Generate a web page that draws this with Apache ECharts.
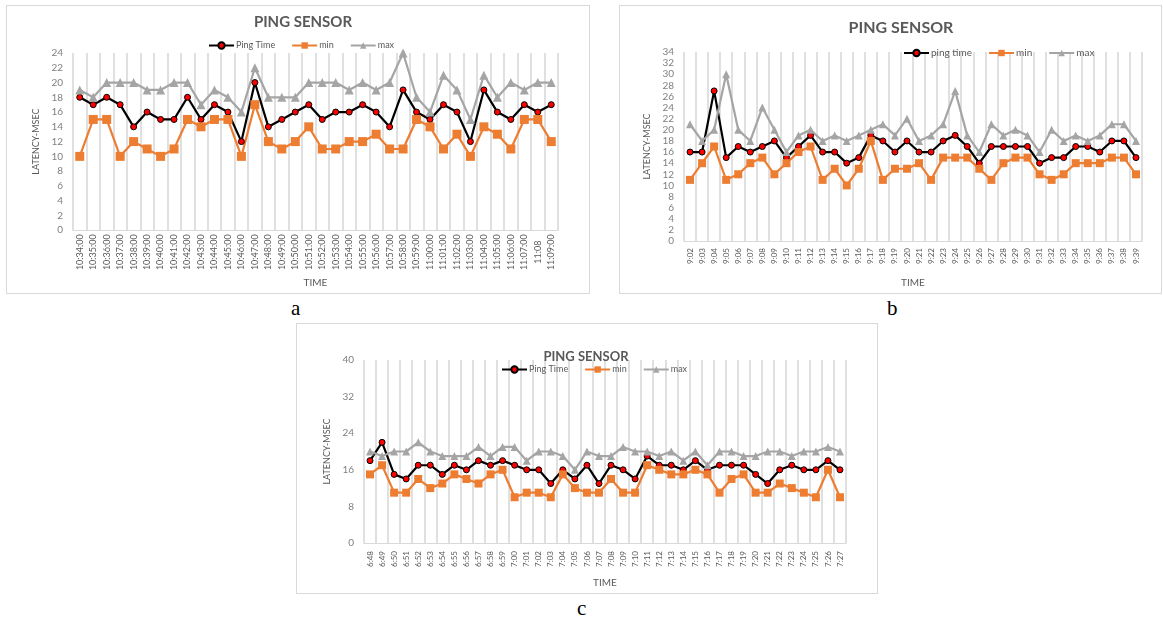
<!DOCTYPE html>
<html>
<head>
<meta charset="utf-8">
<script src="https://cdn.jsdelivr.net/npm/echarts@6/dist/echarts.min.js"></script>
<style>
  html, body { margin: 0; padding: 0; background: #fff; }
  body { width: 1163px; height: 622px; position: relative; overflow: hidden; }
  .box { position: absolute; border: 1px solid #d9d9d9; box-sizing: border-box; }
  .tag { position: absolute; font-family: "Liberation Serif", serif; font-size: 21px; color: #000; }
</style>
</head>
<body>
<div id="chartA" class="box" style="left:6px;top:5px;width:584px;height:289px;"></div>
<div id="chartB" class="box" style="left:619px;top:5px;width:543px;height:289px;"></div>
<div id="chartC" class="box" style="left:296px;top:323px;width:582px;height:271px;"></div>
<div class="tag" style="left:291px;top:296px;">a</div>
<div class="tag" style="left:887px;top:296px;">b</div>
<div class="tag" style="left:577px;top:596px;">c</div>
<script>
// chart a
const timesA = ['10:34:00', '10:35:00', '10:36:00', '10:37:00', '10:38:00', '10:39:00', '10:40:00', '10:41:00', '10:42:00',
  '10:43:00', '10:44:00', '10:45:00', '10:46:00', '10:47:00', '10:48:00', '10:49:00', '10:50:00', '10:51:00',
  '10:52:00', '10:53:00', '10:54:00', '10:55:00', '10:56:00', '10:57:00', '10:58:00', '10:59:00', '11:00:00',
  '11:01:00', '11:02:00', '11:03:00', '11:04:00', '11:05:00', '11:06:00', '11:07:00', '11:08', '11:09:00'];
const pingA = [18, 17, 18, 17, 14, 16, 15, 15, 18, 15, 17, 16, 12, 20, 14, 15, 16, 17, 15, 16, 16, 17, 16, 14, 19, 16, 15, 17, 16, 12, 19, 16, 15, 17, 16, 17];
const minA = [10, 15, 15, 10, 12, 11, 10, 11, 15, 14, 15, 15, 10, 17, 12, 11, 12, 14, 11, 11, 12, 12, 13, 11, 11, 15, 14, 11, 13, 10, 14, 13, 11, 15, 15, 12];
const maxA = [19, 18, 20, 20, 20, 19, 19, 20, 20, 17, 19, 18, 16, 22, 18, 18, 18, 20, 20, 20, 19, 20, 19, 20, 24, 18, 16, 21, 19, 15, 21, 18, 20, 19, 20, 20];

// chart b
const timesB = ['9:02', '9:03', '9:04', '9:05', '9:06', '9:07', '9:08', '9:09', '9:10', '9:11', '9:12', '9:13', '9:14',
  '9:15', '9:16', '9:17', '9:18', '9:19', '9:20', '9:21', '9:22', '9:23', '9:24', '9:25', '9:26', '9:27', '9:28',
  '9:29', '9:30', '9:31', '9:32', '9:33', '9:34', '9:35', '9:36', '9:37', '9:38', '9:39'];
const pingB = [16, 16, 27, 15, 17, 16, 17, 18, 15, 17, 19, 16, 16, 14, 15, 19, 18, 16, 18, 16, 16, 18, 19, 17, 14, 17, 17, 17, 17, 14, 15, 15, 17, 17, 16, 18, 18, 15];
const minB = [11, 14, 17, 11, 12, 14, 15, 12, 14, 16, 17, 11, 13, 10, 13, 18, 11, 13, 13, 14, 11, 15, 15, 15, 13, 11, 14, 15, 15, 12, 11, 12, 14, 14, 14, 15, 15, 12];
const maxB = [21, 18, 20, 30, 20, 18, 24, 20, 16, 19, 20, 18, 19, 18, 19, 20, 21, 19, 22, 18, 19, 21, 27, 19, 16, 21, 19, 20, 19, 16, 20, 18, 19, 18, 19, 21, 21, 18];

// chart c
const timesC = ['6:48', '6:49', '6:50', '6:51', '6:52', '6:53', '6:54', '6:55', '6:56', '6:57', '6:58', '6:59', '7:00',
  '7:01', '7:02', '7:03', '7:04', '7:05', '7:06', '7:07', '7:08', '7:09', '7:10', '7:11', '7:12', '7:13', '7:14',
  '7:15', '7:16', '7:17', '7:18', '7:19', '7:20', '7:21', '7:22', '7:23', '7:24', '7:25', '7:26', '7:27'];
const pingC = [18, 22, 15, 14, 17, 17, 15, 17, 16, 18, 17, 18, 17, 16, 16, 13, 16, 14, 17, 13, 17, 16, 14, 19, 17, 17, 16, 18, 16, 17, 17, 17, 15, 13, 16, 17, 16, 16, 18, 16];
const minC = [15, 17, 11, 11, 14, 12, 13, 15, 14, 13, 15, 16, 10, 11, 11, 10, 15, 12, 11, 11, 14, 11, 11, 17, 16, 15, 15, 16, 15, 11, 14, 15, 11, 11, 13, 12, 11, 10, 16, 10];
const maxC = [20, 19, 20, 20, 22, 20, 19, 19, 19, 21, 19, 21, 21, 18, 20, 20, 19, 16, 20, 19, 19, 21, 20, 20, 19, 20, 18, 20, 17, 20, 20, 19, 19, 20, 20, 19, 20, 20, 21, 20];

const FONT = 'Lato, "Open Sans", sans-serif';
const TXT = '#595959';

// Build one ping sensor panel
function buildChart(domId, cfg) {
    const chart = echarts.init(document.getElementById(domId), null, { renderer: 'canvas' });
    const option = {
        animation: false,
        textStyle: { fontFamily: FONT },
        title: {
            text: 'PING SENSOR',
            left: cfg.titleX,
            top: cfg.titleY,
            textAlign: 'center',
            textStyle: { fontSize: cfg.titleSize, fontWeight: 'bold', color: TXT, fontFamily: FONT }
        },
        legend: {
            data: cfg.names,
            left: cfg.legendX,
            top: cfg.legendY,
            itemWidth: 25,
            itemHeight: 8,
            itemGap: 16,
            textStyle: { fontSize: cfg.legendSize, color: TXT, padding: [0, 0, 0, -3] }
        },
        grid: cfg.grid,
        xAxis: {
            type: 'category',
            data: cfg.times,
            boundaryGap: true,
            name: 'TIME',
            nameLocation: 'middle',
            nameGap: cfg.timeGap,
            nameTextStyle: { fontSize: 10, color: TXT },
            axisLine: { lineStyle: { color: '#d9d9d9', width: 1 } },
            axisTick: { show: false },
            splitLine: { show: true, interval: 0, lineStyle: { color: '#d9d9d9', width: 1.6 } },
            axisLabel: {
                rotate: 90,
                interval: 0,
                align: 'center',
                verticalAlign: 'middle',
                margin: cfg.labelMargin,
                fontSize: cfg.labelSize,
                color: TXT
            }
        },
        yAxis: {
            type: 'value',
            min: 0,
            max: cfg.yMax,
            interval: cfg.yStep,
            name: 'LATENCY-MSEC',
            nameLocation: 'middle',
            nameRotate: 90,
            nameGap: cfg.latGap,
            nameTextStyle: { fontSize: 9, color: TXT },
            axisLine: { show: false },
            axisTick: { show: false },
            splitLine: { show: false },
            axisLabel: { fontSize: cfg.ySize, color: '#7f7f7f', margin: 10 }
        },
        series: [
            {
                name: cfg.names[0],
                type: 'line',
                data: cfg.ping,
                symbol: 'circle',
                symbolSize: 6,
                lineStyle: { color: '#000', width: 2.2 },
                itemStyle: { color: '#ff0000', borderColor: '#000', borderWidth: 1 }
            },
            {
                name: cfg.names[1],
                type: 'line',
                data: cfg.min,
                symbol: 'rect',
                symbolSize: cfg.rectSize,
                lineStyle: { color: '#ed7d31', width: 2.2 },
                itemStyle: { color: '#ed7d31' }
            },
            {
                name: cfg.names[2],
                type: 'line',
                data: cfg.max,
                symbol: 'triangle',
                symbolSize: cfg.triSize,
                lineStyle: { color: '#a5a5a5', width: 2.2 },
                itemStyle: { color: '#a5a5a5' }
            }
        ]
    };
    chart.setOption(option);
    return chart;
}

document.addEventListener('DOMContentLoaded', function() {
    buildChart('chartA', {
        times: timesA, ping: pingA, min: minA, max: maxA,
        names: ['Ping Time', 'min', 'max'],
        titleX: 291, titleY: 4, titleSize: 15,
        legendX: 196, legendY: 30, legendSize: 9,
        grid: { left: 66, top: 47, width: 485, height: 189 },
        yMax: 24, yStep: 2, ySize: 10,
        timeGap: 46, labelMargin: 22, labelSize: 9, latGap: 22,
        rectSize: 9, triSize: 9
    });
    buildChart('chartB', {
        times: timesB, ping: pingB, min: minB, max: maxB,
        names: ['ping time', 'min', 'max'],
        titleX: 276, titleY: 9, titleSize: 16,
        legendX: 278, legendY: 37, legendSize: 10,
        grid: { left: 64, top: 46, width: 458, height: 191 },
        yMax: 34, yStep: 2, ySize: 10,
        timeGap: 37, labelMargin: 15, labelSize: 8, latGap: 18,
        rectSize: 8, triSize: 8
    });
    buildChart('chartC', {
        times: timesC, ping: pingC, min: minC, max: maxC,
        names: ['Ping Time', 'min', 'max'],
        titleX: 284, titleY: 21, titleSize: 13,
        legendX: 199, legendY: 36, legendSize: 9,
        grid: { left: 67, top: 36, width: 482, height: 184 },
        yMax: 40, yStep: 8, ySize: 10,
        timeGap: 35, labelMargin: 16, labelSize: 8, latGap: 19,
        rectSize: 8, triSize: 8
    });
});
</script>
</body>
</html>
